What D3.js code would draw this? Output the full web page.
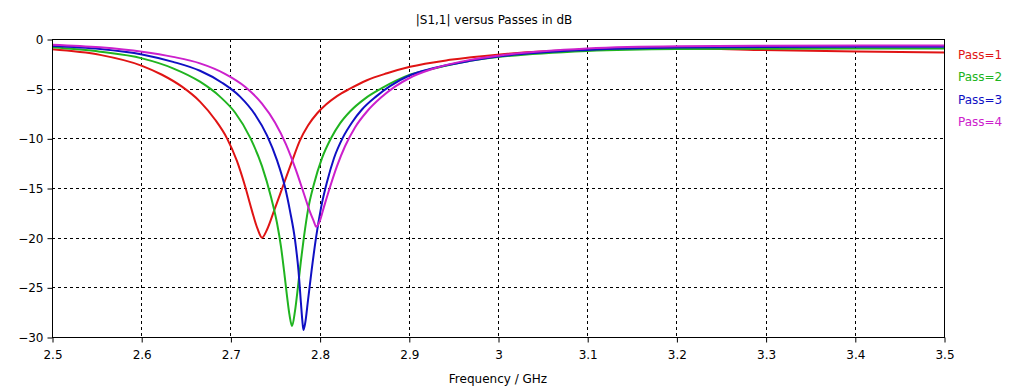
<!DOCTYPE html>
<html>
<head>
<meta charset="utf-8">
<script src="https://cdn.jsdelivr.net/npm/d3@7"></script>
<style>
  html, body { margin: 0; padding: 0; background: #fff; }
  svg text { font-family: "DejaVu Sans", Verdana, sans-serif; font-size: 12px; }
</style>
</head>
<body>
<svg id="chart" width="1034" height="386"></svg>
<script>
const title = "|S1,1| versus Passes in dB";
const xLabel = "Frequency / GHz";
const xTicks = [2.5, 2.6, 2.7, 2.8, 2.9, 3.0, 3.1, 3.2, 3.3, 3.4, 3.5];
const yTicks = [0, -5, -10, -15, -20, -25, -30];
const seriesNames = ["Pass=1", "Pass=2", "Pass=3", "Pass=4"];
const seriesColors = ["#e01414", "#20b420", "#1010c4", "#cc20cc"];

const pass1Freq = [2.5000, 2.5538, 2.6009, 2.6233, 2.6457, 2.6659, 2.6827, 2.6962, 2.7074, 2.7164, 2.7242, 2.7304, 2.7354, 2.7410, 2.7489, 2.7590, 2.7691, 2.7780, 2.7870, 2.7971, 2.8072, 2.8195, 2.8341, 2.8531, 2.8756, 2.9013, 2.9462, 3.0022, 3.0998, 3.2007, 3.2937, 3.4025, 3.5000];
const pass1dB   = [-1.04, -1.6, -2.7, -3.6, -4.8, -6.3, -8.1, -10.0, -12.3, -14.8, -17.3, -19.1, -20.0, -19.2, -17.3, -14.8, -12.3, -10.2, -8.7, -7.5, -6.6, -5.75, -5.0, -4.15, -3.45, -2.8, -2.1, -1.55, -1.05, -0.92, -1.1, -1.25, -1.35];

const pass2Freq = [2.5000, 2.5538, 2.6009, 2.6357, 2.6659, 2.6883, 2.7052, 2.7220, 2.7354, 2.7455, 2.7522, 2.7567, 2.7601, 2.7635, 2.7663, 2.7691, 2.7724, 2.7758, 2.7791, 2.7825, 2.7870, 2.7937, 2.8027, 2.8128, 2.8229, 2.8341, 2.8509, 2.8688, 2.8857, 2.9013, 2.9271, 2.9686, 3.0022, 3.0998, 3.2007, 3.3004, 3.5000];
const pass2dB   = [-0.84, -1.28, -1.95, -2.95, -4.3, -5.8, -7.4, -9.9, -12.8, -15.9, -18.5, -20.9, -23.3, -25.9, -27.8, -28.9, -27.4, -24.9, -22.3, -19.9, -17.2, -14.6, -12.0, -10.0, -8.5, -7.3, -6.0, -5.0, -4.2, -3.6, -3.0, -2.2, -1.8, -1.2, -1.0, -0.97, -0.95];

const pass3Freq = [2.5000, 2.5538, 2.6009, 2.6357, 2.6659, 2.6906, 2.7108, 2.7276, 2.7410, 2.7522, 2.7612, 2.7668, 2.7724, 2.7763, 2.7791, 2.7806, 2.7819, 2.7842, 2.7870, 2.7909, 2.7960, 2.8016, 2.8083, 2.8161, 2.8262, 2.8363, 2.8475, 2.8632, 2.8789, 2.9013, 2.9271, 2.9686, 3.0022, 3.0998, 3.2007, 3.3004, 3.5000];
const pass3dB   = [-0.7, -1.0, -1.55, -2.3, -3.2, -4.4, -5.8, -7.6, -9.7, -12.2, -14.9, -17.3, -20.2, -23.3, -26.6, -28.3, -29.3, -28.4, -26.3, -23.4, -20.0, -17.0, -14.4, -12.0, -9.9, -8.4, -7.1, -5.8, -4.75, -3.65, -2.95, -2.2, -1.75, -1.1, -0.85, -0.8, -0.78];

const pass4Freq = [2.5000, 2.5538, 2.6009, 2.6357, 2.6659, 2.6939, 2.7164, 2.7354, 2.7500, 2.7623, 2.7735, 2.7825, 2.7892, 2.7937, 2.7960, 2.7999, 2.8049, 2.8117, 2.8195, 2.8285, 2.8397, 2.8531, 2.8688, 2.8845, 2.9013, 2.9271, 2.9686, 3.0022, 3.0998, 3.2007, 3.3004, 3.5000];
const pass4dB   = [-0.57, -0.84, -1.28, -1.8, -2.45, -3.5, -4.8, -6.5, -8.4, -10.6, -13.2, -15.6, -17.4, -18.4, -18.9, -18.4, -16.9, -14.9, -12.8, -10.8, -8.9, -7.3, -5.9, -4.8, -3.9, -3.0, -2.1, -1.65, -0.95, -0.72, -0.68, -0.65];

const seriesFreq = [pass1Freq, pass2Freq, pass3Freq, pass4Freq];
const seriesdB = [pass1dB, pass2dB, pass3dB, pass4dB];

const svg = d3.select("#chart");
const pLeft = 52, pRight = 944, pTop = 39, pBottom = 337;

const x = d3.scaleLinear().domain([2.5, 3.5]).range([pLeft, pRight]);
const y = d3.scaleLinear().domain([-30, 0]).range([pBottom, pTop]);

// Grid
const grid = svg.append("g");
grid.selectAll("line.vx").data(xTicks.slice(1, -1)).join("line")
  .attr("x1", d => Math.round(x(d)) + 0.5).attr("x2", d => Math.round(x(d)) + 0.5)
  .attr("y1", pTop).attr("y2", pBottom)
  .attr("stroke", "#000").attr("stroke-dasharray", "3,3").attr("stroke-width", 1);
grid.selectAll("line.hy").data(yTicks.slice(1, -1)).join("line")
  .attr("y1", d => Math.round(y(d)) + 0.5).attr("y2", d => Math.round(y(d)) + 0.5)
  .attr("x1", pLeft).attr("x2", pRight)
  .attr("stroke", "#000").attr("stroke-dasharray", "3,3").attr("stroke-width", 1);

// Curves
const line = d3.line().x(d => x(d[0])).y(d => y(d[1])).curve(d3.curveMonotoneX);
const plot = svg.append("g");
seriesFreq.forEach((fr, i) => {
  const pts = fr.map((f, k) => [f, seriesdB[i][k]]);
  plot.append("path").datum(pts)
    .attr("d", line)
    .attr("fill", "none")
    .attr("stroke", seriesColors[i])
    .attr("stroke-width", 2)
    .attr("stroke-linejoin", "round");
});

// Frame
svg.append("rect")
  .attr("x", pLeft + 0.5).attr("y", pTop + 0.5)
  .attr("width", pRight - pLeft).attr("height", pBottom - pTop)
  .attr("fill", "none").attr("stroke", "#000").attr("stroke-width", 1);

// Axes
const xAxis = d3.axisBottom(x).tickValues(xTicks).tickSize(5).tickPadding(8)
  .tickFormat(d => d3.format("~g")(d));
const gx = svg.append("g").attr("transform", `translate(0.5,${pBottom + 0.5})`).call(xAxis);
gx.select(".domain").remove();
gx.selectAll("text").attr("font-size", 12).attr("fill", "#000").attr("font-family", "DejaVu Sans, Verdana, sans-serif");

const yAxis = d3.axisLeft(y).tickValues(yTicks).tickSize(5).tickPadding(4)
  .tickFormat(d => d3.format("~g")(d));
const gy = svg.append("g").attr("transform", `translate(${pLeft + 0.5},0.5)`).call(yAxis);
gy.select(".domain").remove();
gy.selectAll("text").attr("font-size", 12).attr("fill", "#000").attr("font-family", "DejaVu Sans, Verdana, sans-serif");

// Title and label
svg.append("text").attr("x", (pLeft + pRight) / 2 - 4).attr("y", 24)
  .attr("text-anchor", "middle").attr("fill", "#000").text(title);
svg.append("text").attr("x", (pLeft + pRight) / 2).attr("y", 383)
  .attr("text-anchor", "middle").attr("fill", "#000").text(xLabel);

// Legend
const legend = svg.append("g");
seriesNames.forEach((n, i) => {
  legend.append("text")
    .attr("x", 958).attr("y", 59 + i * 22.3)
    .attr("fill", seriesColors[i])
    .text(n);
});
</script>
</body>
</html>
